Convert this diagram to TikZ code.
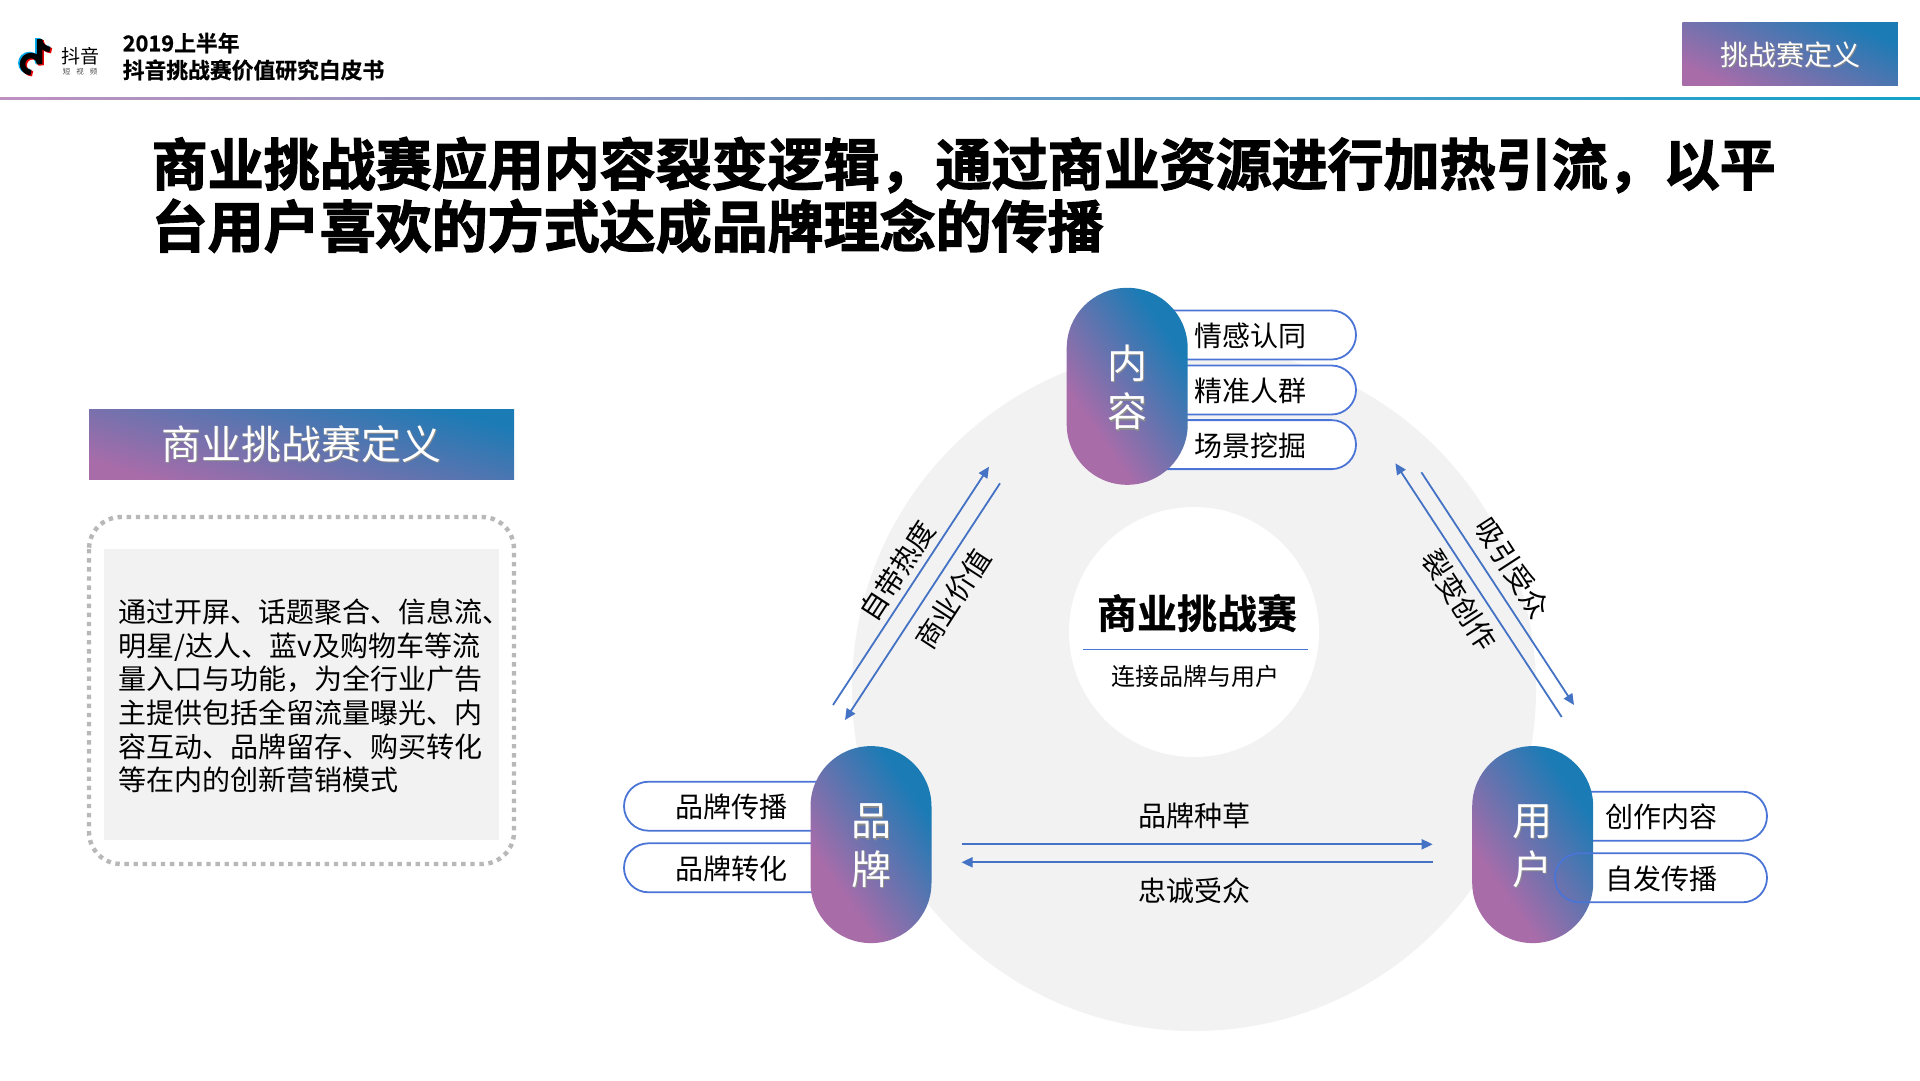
\documentclass[tikz,border=0pt]{standalone}
\usepackage{fontspec}
\usetikzlibrary{arrows.meta,shapes.misc,shadings}
\setmainfont{Noto Sans CJK SC}[BoldFont={* Bold}]
\newfontfamily\cjkheavy{Noto Sans CJK SC Bold}[FakeBold=2.2]
\newfontfamily\cjkmid{Noto Sans CJK SC Bold}[FakeBold=0.8]
\definecolor{gblue}{HTML}{1B7BB5}
\definecolor{gpurple}{HTML}{A86CA9}
\definecolor{lineblue}{HTML}{4A74D6}
\definecolor{arrowblue}{HTML}{4472C4}
\definecolor{softgray}{HTML}{F2F2F2}
\definecolor{dotgray}{HTML}{B8B8B8}
\pgfdeclareverticalshading{pillgrad}{100bp}{color(0bp)=(gpurple); color(33bp)=(gpurple); color(71bp)=(gblue); color(100bp)=(gblue)}
\newcommand{\sz}[1]{\fontsize{#1}{#1}\selectfont}
\newcommand{\shadowed}[1]{\leavevmode\rlap{\raisebox{-1.4pt}{\hspace{1.4pt}\textcolor{black!45}{#1}}}\textcolor{white}{#1}}
\tikzset{
  gradbase/.style={bottom color=gpurple,top color=gblue,inner sep=0pt,outer sep=0pt},
  mainpill/.style={shading=pillgrad,shading angle=-55,inner sep=0pt,outer sep=0pt,rectangle,rounded corners=60.4pt,minimum width=121pt,minimum height=197pt},
  minipill/.style={draw=lineblue,line width=1.8pt,fill=white,rounded rectangle,minimum height=49pt,inner sep=0pt,outer sep=0pt},
  ringpill/.style={minipill,fill=none},
  pilltext/.style={font=\sz{28},text=black,inner sep=0pt},
  arrowline/.style={draw=arrowblue,line width=1.8pt,-{Triangle[length=11pt,width=10pt]}},
}
\begin{document}
\begin{tikzpicture}[x=1pt,y=-1pt]
\useasboundingbox (0,0) rectangle (1920,1080);
\fill[white] (0,0) rectangle (1920,1080);

% header rule
\shade[left color=gpurple!75!white,right color=gblue!70!cyan] (0,97.6) rectangle (1920,99);

% logo
\foreach \c/\dx/\dy in {cyan/-1.6/-1,red!90!black/1.6/1.2,black/0/0}{
  \draw[\c,line width=5.5pt,shift={(\dx,\dy)}] (39.5,39) -- (39.5,64) arc[start angle=0,end angle=-270,radius=8.5];
  \draw[\c,line width=5.5pt,shift={(\dx,\dy)}] (39.5,41) .. controls (41,46) and (45,49) .. (50,49.5);
}
\node[font=\sz{19},inner sep=0pt] (logotext) at (80,56) {抖音};
\node[font=\sz{7.5},inner sep=0pt,text=black!70] (logosub) at (80,72) {短\hspace{6pt}视\hspace{6pt}频};
\node[anchor=west,font=\cjkmid\sz{21.8},inner sep=0pt] (hdr1) at (122.5,43) {2019上半年};
\node[anchor=west,font=\cjkmid\sz{21.8},inner sep=0pt] (hdr2) at (122.5,70) {抖音挑战赛价值研究白皮书};

% top right tag
\node[gradbase,shading angle=-26,minimum width=215.5pt,minimum height=63pt] (tag) at (1790,54.2) {};
\node[font=\sz{28},inner sep=0pt] (tagtext) at (1790,55) {\shadowed{挑战赛定义}};

% title
\node[anchor=west,font=\cjkheavy\sz{56},inner sep=0pt] (title1) at (151.5,165) {商业挑战赛应用内容裂变逻辑，通过商业资源进行加热引流，以平};
\node[anchor=west,font=\cjkheavy\sz{56},inner sep=0pt] (title2) at (151.5,226) {台用户喜欢的方式达成品牌理念的传播};

% left panel
\node[gradbase,shading angle=-16,minimum width=425pt,minimum height=69.7pt] (defhead) at (301.5,444.2) {};
\node[font=\sz{40},inner sep=0pt] (defheadtext) at (301,445) {\shadowed{商业挑战赛定义}};
\draw[dotgray,line width=4.4pt,rounded corners=32pt,dash pattern=on 4.4pt off 4.7pt] (89,517) rectangle (514,864);
\fill[softgray] (104,549) rectangle (499,840);
\node[anchor=west,align=left,font=\fontsize{28}{33.6}\selectfont,inner sep=0pt] (body) at (118.5,696) {通过开屏、话题聚合、信息流、\\明星/达人、蓝v及购物车等流\\量入口与功能，为全行业广告\\主提供包括全留流量曝光、内\\容互动、品牌留存、购买转化\\等在内的创新营销模式};

% big circles
\fill[softgray] (1194,689) circle[radius=342];
\node[circle,fill=white,minimum size=250pt,inner sep=0pt] (centre) at (1194,632) {};
\node[font=\cjkmid\sz{40},inner sep=0pt] (centretitle) at (1197,613) {商业挑战赛};
\coordinate (ruleL) at (1083,649.5);
\coordinate (ruleR) at (1308,649.5);
\draw[lineblue,line width=1.2pt] (ruleL) -- (ruleR);
\node[font=\sz{24},inner sep=0pt] (centresub) at (1195,676) {连接品牌与用户};

% mini pills: content
\node[minipill,minimum width=216pt] (c1) at (1248,335) {};
\node[minipill,minimum width=216pt] (c2) at (1248,390) {};
\node[minipill,minimum width=216pt] (c3) at (1248,444.6) {};
% mini pills: brand
\node[minipill,minimum width=216pt] (b1) at (732,806.2) {};
\node[minipill,minimum width=216pt] (b2) at (732,867.8) {};
% mini pills: user
\node[minipill,minimum width=212pt] (u1) at (1661,816.2) {};

% main pills
\node[mainpill] (content) at (1127.2,386.3) {};
\node[mainpill] (brand) at (871,844.6) {};
\node[mainpill] (user) at (1532.7,844.6) {};
\node[font=\sz{40},inner sep=0pt] (content1) at (1127,364) {\shadowed{内}};
\node[font=\sz{40},inner sep=0pt] (content2) at (1127,412) {\shadowed{容}};
\node[font=\sz{40},inner sep=0pt] (brand1) at (871,822) {\shadowed{品}};
\node[font=\sz{40},inner sep=0pt] (brand2) at (871,870) {\shadowed{牌}};
\node[font=\sz{40},inner sep=0pt] (user1) at (1532,822) {\shadowed{用}};
\node[font=\sz{40},inner sep=0pt] (user2) at (1532,870) {\shadowed{户}};

% overlaid outline pill
\node[ringpill,minimum width=212pt] (u2) at (1661,877.8) {};

% pill labels
\node[pilltext] (c1t) at (1250.5,336) {情感认同};
\node[pilltext] (c2t) at (1250.5,391) {精准人群};
\node[pilltext] (c3t) at (1250.5,445.5) {场景挖掘};
\node[pilltext] (b1t) at (731,807) {品牌传播};
\node[pilltext] (b2t) at (731,868.5) {品牌转化};
\node[pilltext] (u1t) at (1661,817) {创作内容};
\node[pilltext] (u2t) at (1661,878.5) {自发传播};

% arrows
\coordinate (la1) at (833,705);   \coordinate (la2) at (989,466.7);
\coordinate (lb1) at (1000,483.3);\coordinate (lb2) at (845,720);
\coordinate (ra1) at (1561.7,717);\coordinate (ra2) at (1395.4,463.3);
\coordinate (rb1) at (1421.4,472.3);\coordinate (rb2) at (1574,705);
\coordinate (ha1) at (961.5,844.3);\coordinate (ha2) at (1432.7,844.3);
\coordinate (hb1) at (1432.7,862.3);\coordinate (hb2) at (961.5,862.3);
\draw[arrowline] (la1) -- (la2);
\draw[arrowline] (lb1) -- (lb2);
\draw[arrowline] (ra1) -- (ra2);
\draw[arrowline] (rb1) -- (rb2);
\draw[arrowline] (ha1) -- (ha2);
\draw[arrowline] (hb1) -- (hb2);

% arrow labels
\node[pilltext,rotate=57] (l1) at (897.5,571) {自带热度};
\node[pilltext,rotate=57] (l2) at (953,599) {商业价值};
\node[pilltext,rotate=-57] (l3) at (1512.5,568) {吸引受众};
\node[pilltext,rotate=-57] (l4) at (1459.7,600) {裂变创作};
\node[pilltext] (l5) at (1194,815.5) {品牌种草};
\node[pilltext] (l6) at (1194,890.5) {忠诚受众};
\end{tikzpicture}
\end{document}
